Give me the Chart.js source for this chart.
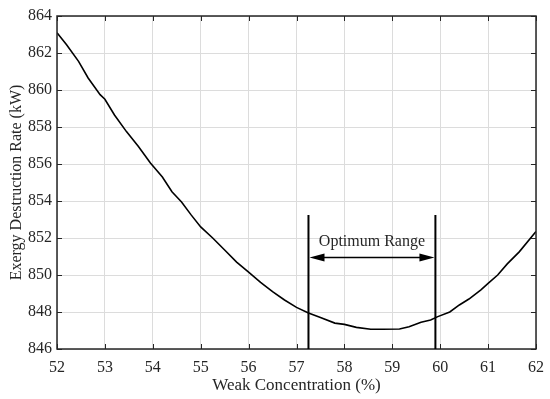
<!DOCTYPE html>
<html>
<head>
<meta charset="utf-8">
<script src="https://cdn.jsdelivr.net/npm/chart.js@4/dist/chart.umd.min.js"></script>
<style>
  html, body { margin: 0; padding: 0; background: #fff; }
  #wrap { width: 550px; height: 399px; }
</style>
</head>
<body>
<div id="wrap"><canvas id="exergyChart" width="550" height="399"></canvas></div>
<script>
// concentration (%) and exergy destruction rate (kW)
const concentration = [52, 52.2, 52.45, 52.65, 52.9, 53.0, 53.2, 53.45, 53.7, 53.95, 54.2, 54.4,
  54.6, 54.8, 55.0, 55.25, 55.5, 55.75, 56.0, 56.25, 56.5, 56.75, 57.0, 57.25, 57.5, 57.8, 58.0,
  58.25, 58.55, 58.8, 59.15, 59.35, 59.6, 59.8, 59.95, 60.2, 60.4, 60.6, 60.85, 61.0, 61.2, 61.4,
  61.65, 62.0];
const destructionRate = [863.1, 862.45, 861.55, 860.65, 859.75, 859.5, 858.65, 857.75, 856.95, 856.05,
  855.3, 854.5, 853.95, 853.25, 852.6, 852.0, 851.35, 850.7, 850.15, 849.6, 849.1, 848.65, 848.25,
  847.95, 847.7, 847.4, 847.33, 847.17, 847.07, 847.07, 847.08, 847.2, 847.45, 847.57, 847.75,
  848.0, 848.38, 848.7, 849.2, 849.55, 850.0, 850.6, 851.25, 852.35];

const xTicks = [52, 53, 54, 55, 56, 57, 58, 59, 60, 61, 62];
const yTicks = [846, 848, 850, 852, 854, 856, 858, 860, 862, 864];

// optimum range annotation (data units)
const optimumRange = [57.25, 59.9];
const rangeLineTop = 853.25;
const arrowLevel = 850.95;
const labelLevel = 851.8;
const rangeLabel = 'Optimum Range';

const serif = "'Liberation Serif', 'Times New Roman', serif";
const ink = '#262626';

// frame, inward ticks on all four sides, and the range annotation
const framePlugin = {
  id: 'framePlugin',
  afterDatasetsDraw(chart) {
    const { ctx, chartArea: a, scales: { x, y } } = chart;
    ctx.save();
    ctx.strokeStyle = ink;
    ctx.lineWidth = 1;
    const len = 5;
    ctx.beginPath();
    xTicks.forEach(v => {
      const px = Math.round(x.getPixelForValue(v)) + 0.5;
      ctx.moveTo(px, a.bottom); ctx.lineTo(px, a.bottom - len);
      ctx.moveTo(px, a.top); ctx.lineTo(px, a.top + len);
    });
    yTicks.forEach(v => {
      const py = Math.round(y.getPixelForValue(v)) + 0.5;
      ctx.moveTo(a.left, py); ctx.lineTo(a.left + len, py);
      ctx.moveTo(a.right, py); ctx.lineTo(a.right - len, py);
    });
    ctx.stroke();
    ctx.lineWidth = 1.5;
    ctx.strokeRect(a.left, a.top, a.right - a.left, a.bottom - a.top);

    // vertical range limits
    const xl = x.getPixelForValue(optimumRange[0]);
    const xr = x.getPixelForValue(optimumRange[1]);
    const yTop = y.getPixelForValue(rangeLineTop);
    ctx.lineWidth = 2;
    ctx.strokeStyle = '#000';
    ctx.beginPath();
    ctx.moveTo(xl, a.bottom); ctx.lineTo(xl, yTop);
    ctx.moveTo(xr, a.bottom); ctx.lineTo(xr, yTop);
    ctx.stroke();

    // double arrow
    const ya = y.getPixelForValue(arrowLevel);
    const head = 15, half = 4;
    ctx.lineWidth = 1.5;
    ctx.beginPath();
    ctx.moveTo(xl + head - 2, ya); ctx.lineTo(xr - head + 2, ya);
    ctx.stroke();
    ctx.fillStyle = '#000';
    ctx.beginPath();
    ctx.moveTo(xl + 1, ya); ctx.lineTo(xl + 1 + head, ya - half); ctx.lineTo(xl + 1 + head, ya + half);
    ctx.closePath(); ctx.fill();
    ctx.beginPath();
    ctx.moveTo(xr - 1, ya); ctx.lineTo(xr - 1 - head, ya - half); ctx.lineTo(xr - 1 - head, ya + half);
    ctx.closePath(); ctx.fill();

    // label
    ctx.font = '16px ' + serif;
    ctx.fillStyle = ink;
    ctx.textAlign = 'center';
    ctx.textBaseline = 'middle';
    ctx.fillText(rangeLabel, (xl + xr) / 2, y.getPixelForValue(labelLevel));
    ctx.restore();
  }
};

const ctx = document.getElementById('exergyChart').getContext('2d');
new Chart(ctx, {
  type: 'line',
  data: {
    datasets: [{
      data: concentration.map((c, i) => ({ x: c, y: destructionRate[i] })),
      borderColor: '#000',
      borderWidth: 1.6,
      pointRadius: 0,
      tension: 0,
      fill: false
    }]
  },
  options: {
    responsive: false,
    animation: false,
    layout: { padding: { top: 16, right: 14, left: 0, bottom: 0 } },
    plugins: { legend: { display: false }, tooltip: { enabled: false } },
    scales: {
      x: {
        type: 'linear',
        min: 52,
        max: 62,
        afterBuildTicks: s => { s.ticks = xTicks.map(v => ({ value: v })); },
        afterFit: s => { s.height = 50; s.paddingLeft = 0; s.paddingRight = 0; },
        grid: { color: '#dcdcdc', drawTicks: false },
        border: { display: false },
        ticks: { color: ink, padding: 9, font: { family: serif, size: 16 }, maxRotation: 0 },
        title: {
          display: true,
          text: 'Weak Concentration (%)',
          color: ink,
          font: { family: serif, size: 17 },
          padding: { top: 0, bottom: 3 }
        }
      },
      y: {
        min: 846,
        max: 864,
        afterBuildTicks: s => { s.ticks = yTicks.map(v => ({ value: v })); },
        afterFit: s => { s.width = 57; s.paddingTop = 0; s.paddingBottom = 0; },
        grid: { color: '#dcdcdc', drawTicks: false },
        border: { display: false },
        ticks: { color: ink, padding: 5, font: { family: serif, size: 16 } },
        title: {
          display: true,
          text: 'Exergy Destruction Rate (kW)',
          color: ink,
          font: { family: serif, size: 16 },
          padding: { top: 7, bottom: 0 }
        }
      }
    }
  },
  plugins: [framePlugin]
});
</script>
</body>
</html>
